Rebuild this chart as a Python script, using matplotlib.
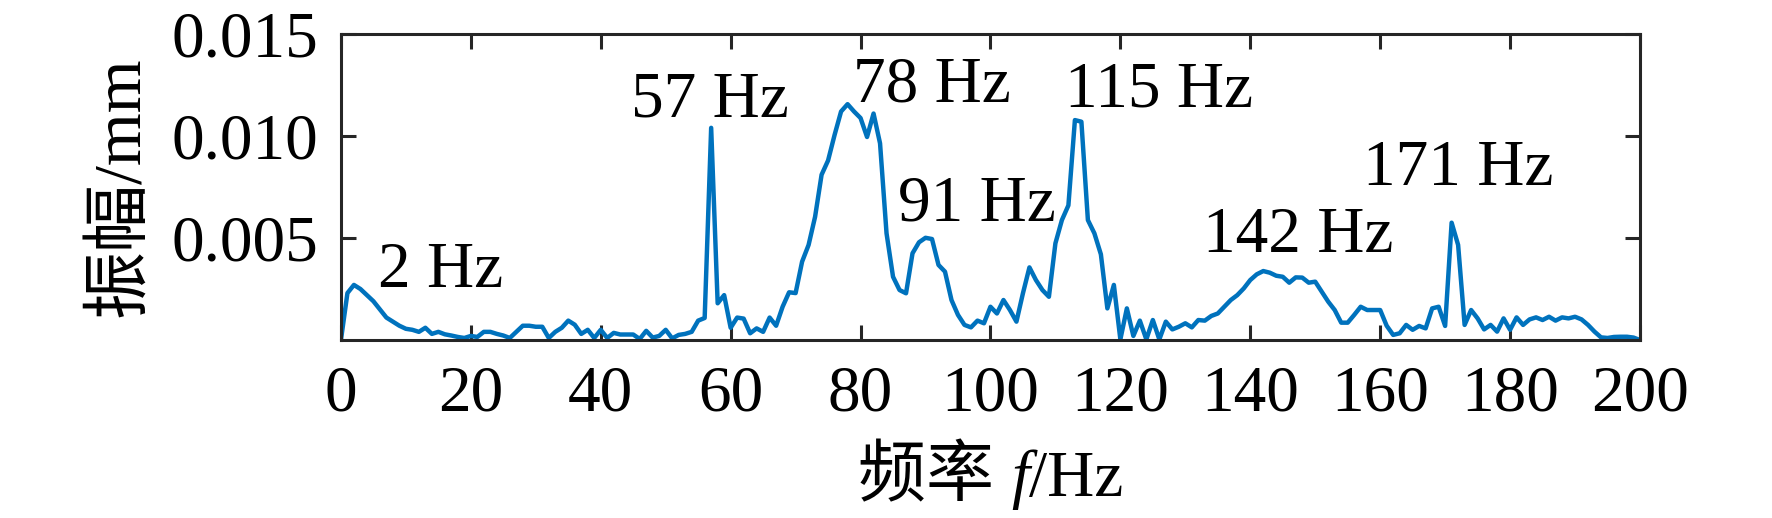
import numpy as np
import matplotlib
matplotlib.use("Agg")
import matplotlib.pyplot as plt
from matplotlib.offsetbox import TextArea, HPacker, AnchoredOffsetbox

# spectrum, 1 Hz steps from 0 to 200 Hz
freq = np.arange(0, 201, 1)
amp = [
    0.0, 0.0023, 0.0027, 0.0025, 0.0022, 0.0019, 0.0015, 0.0011, 0.0009, 0.0007,
    0.00055, 0.0005, 0.0004, 0.0006, 0.0003, 0.0004, 0.00028, 0.00022, 0.00015, 0.0001,
    0.0002, 0.00015, 0.0004, 0.0004, 0.0003, 0.00022, 0.0001, 0.0004, 0.0007, 0.0007,
    0.00065, 0.00065, 0.0001, 0.0004, 0.0006, 0.00095, 0.00075, 0.0003, 0.0005, 0.0001,
    0.0005, 0.0001, 0.00035, 0.00027, 0.00027, 0.00027, 0.00005, 0.00045, 0.00012, 0.0002,
    0.0005, 0.00008, 0.00025, 0.0003, 0.0004, 0.00095, 0.00108, 0.0104, 0.0018, 0.0022,
    0.0006, 0.0011, 0.00105, 0.00033, 0.00057, 0.0004, 0.0011, 0.0007, 0.00163, 0.00234,
    0.0023, 0.00384, 0.00466, 0.00604, 0.0081, 0.0088, 0.01005, 0.0112, 0.01156, 0.0112,
    0.01088, 0.00995, 0.0111, 0.00964, 0.00523, 0.0031, 0.00245, 0.00229, 0.00425, 0.00479,
    0.00501, 0.00495, 0.00368, 0.00335, 0.00196, 0.00123, 0.00074, 0.00062, 0.00095, 0.00082,
    0.00163, 0.0013, 0.00196, 0.00147, 0.0009, 0.00229, 0.00356, 0.00294, 0.00245, 0.00212,
    0.00474, 0.00588, 0.0066, 0.01078, 0.0107, 0.00588, 0.00523, 0.0042, 0.00155, 0.0027,
    0.00003, 0.00155, 0.0002, 0.00095, 0.00003, 0.00098, 0.00003, 0.0009, 0.00052, 0.00065,
    0.00082, 0.00062, 0.00098, 0.00095, 0.00118, 0.0013, 0.00163, 0.00196, 0.0022, 0.00253,
    0.00294, 0.00322, 0.00338, 0.0033, 0.00315, 0.0031, 0.00281, 0.00307, 0.00306, 0.00281,
    0.00286, 0.00237, 0.00188, 0.00147, 0.00085, 0.00085, 0.00123, 0.00163, 0.00147, 0.00147,
    0.00147, 0.0007, 0.00025, 0.00033, 0.00074, 0.0005, 0.00069, 0.00057, 0.00155, 0.00163,
    0.00069, 0.00575, 0.00466, 0.00074, 0.00147, 0.00106, 0.00052, 0.00074, 0.00041, 0.00106,
    0.0005, 0.00111, 0.00074, 0.00101, 0.00111, 0.00098, 0.00114, 0.00095, 0.00111, 0.00106,
    0.00114, 0.00101, 0.00074, 0.00041, 0.00013, 0.0001, 0.00015, 0.00016, 0.00016, 0.00012,
    0.0,
]

# peak labels: text, left edge (Hz), baseline (mm)
peak_text = ["2 Hz", "57 Hz", "78 Hz", "91 Hz", "115 Hz", "142 Hz", "171 Hz"]
peak_x = [5.7, 44.6, 78.8, 85.7, 111.4, 132.7, 157.3]
peak_y = [0.00258, 0.01094, 0.01168, 0.00588, 0.01147, 0.00433, 0.0076]

xticks = np.arange(0, 201, 20)
yticks = [0.005, 0.010, 0.015]
ytick_labels = ["0.005", "0.010", "0.015"]

serif = ["Liberation Serif", "Noto Sans CJK SC"]
plt.rcParams["font.family"] = serif
fs = 47
dark = "#262626"

fig = plt.figure(figsize=(17.72, 5.18), dpi=100)
ax = fig.add_axes([0.1924, 0.3436, 0.7331, 0.5908])

ax.plot(freq, amp, color="#0072BD", lw=3.2)

for t, x, y in zip(peak_text, peak_x, peak_y):
    ax.text(x, y, t, fontsize=fs, ha="left", va="baseline")

ax.set_xlim(0, 200)
ax.set_ylim(0, 0.015)
ax.set_xticks(xticks)
ax.set_yticks(yticks)
ax.set_yticklabels(ytick_labels)
ax.tick_params(direction="in", length=11, width=2.2, colors=dark,
               labelcolor="black", labelsize=fs, top=True, right=True)
ax.tick_params(axis="x", pad=18)
ax.tick_params(axis="y", pad=16)
for s in ax.spines.values():
    s.set_linewidth(2.2)
    s.set_color(dark)

ax.set_ylabel("振幅/mm", fontsize=fs + 2, labelpad=14)

# x label with italic f
parts = [
    TextArea("频率 ", textprops=dict(fontsize=fs + 2, family=serif)),
    TextArea("f", textprops=dict(fontsize=fs, family="Liberation Serif", style="italic")),
    TextArea("/Hz", textprops=dict(fontsize=fs, family="Liberation Serif")),
]
box = HPacker(children=parts, align="baseline", pad=0, sep=0)
anchored = AnchoredOffsetbox(loc="upper center", child=box, frameon=False,
                             bbox_to_anchor=(0.5, -0.35), bbox_transform=ax.transAxes,
                             borderpad=0, pad=0)
ax.add_artist(anchored)

fig.savefig("out.png", dpi=100)
